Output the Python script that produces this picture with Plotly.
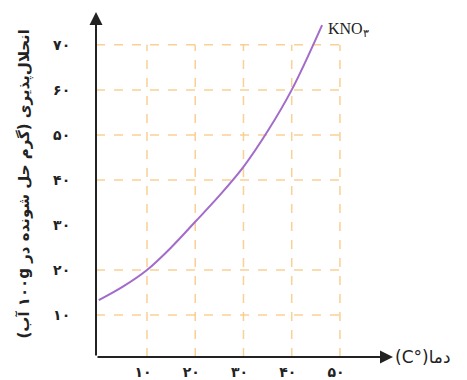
import plotly.graph_objects as go

# Data
temp = [0, 5, 10, 15, 20, 25, 30, 35, 40, 46.3]
solubility = [13.3, 16.3, 20, 25, 30.7, 36.5, 42.9, 50.8, 60, 74.4]

x_ticks = [10, 20, 30, 40, 50]
x_tick_labels = ["۱۰", "۲۰", "۳۰", "۴۰", "۵۰"]
y_ticks = [10, 20, 30, 40, 50, 60, 70]
y_tick_labels = ["۱۰", "۲۰", "۳۰", "۴۰", "۵۰", "۶۰", "۷۰"]
grid_rows = [10, 20, 40, 50, 60, 70]   # the 30 row has no dashed line in the reference

series_name = "KNO<sub>۳</sub>"
y_title = "\u202Bانحلال‌پذیری (گرم حل شونده در ۱۰۰g آب)\u202C"
x_title = "(C°)دما"

X_MIN, X_MAX = -0.57, 61
Y_MIN, Y_MAX = 0.67, 77.3
GRID_X, GRID_Y = 50, 70

fig = go.Figure()

grid_color = "rgba(248,200,130,0.85)"
shapes = []
for xv in x_ticks:
    shapes.append(dict(type="line", xref="x", yref="y", x0=xv, x1=xv, y0=Y_MIN, y1=GRID_Y,
                       line=dict(color=grid_color, width=1.5, dash="dash"), layer="below"))
for yv in grid_rows:
    shapes.append(dict(type="line", xref="x", yref="y", x0=X_MIN, x1=GRID_X + 0.5, y0=yv, y1=yv,
                       line=dict(color=grid_color, width=1.5, dash="dash"), layer="below"))

fig.add_trace(go.Scatter(x=temp, y=solubility, mode="lines",
                         line=dict(color="#A36BCB", width=2, shape="spline"),
                         hoverinfo="skip", showlegend=False))

annotations = [
    dict(x=X_MAX, y=Y_MIN, ax=X_MIN, ay=Y_MIN, xref="x", yref="y", axref="x", ayref="y",
         showarrow=True, arrowhead=2, arrowsize=1.3, arrowwidth=2, arrowcolor="#222", text=""),
    dict(x=X_MIN, y=Y_MAX, ax=X_MIN, ay=Y_MIN, xref="x", yref="y", axref="x", ayref="y",
         showarrow=True, arrowhead=2, arrowsize=1.3, arrowwidth=2, arrowcolor="#222", text=""),
    dict(x=temp[-1], y=solubility[-1], xref="x", yref="y", text=series_name,
         showarrow=False, xanchor="left", yanchor="middle", xshift=4, yshift=-4,
         font=dict(family="Liberation Serif", size=16, color="#222")),
    dict(x=X_MAX, y=Y_MIN, xref="x", yref="y", text=x_title, showarrow=False,
         xanchor="left", yanchor="middle", xshift=0,
         font=dict(family="DejaVu Sans", size=17, color="#222")),
    dict(x=0, y=0.5, xref="paper", yref="paper", text=y_title, showarrow=False,
         textangle=-90, xanchor="center", yanchor="middle", xshift=-72,
         font=dict(family="DejaVu Sans", size=15, color="#222", weight="bold")),
]

# the page body adds an 8px offset, so the figure is 8px smaller and margins shifted
fig.update_layout(
    width=459, height=372,
    margin=dict(l=88, r=74, t=4, b=23),
    paper_bgcolor="white", plot_bgcolor="white",
    shapes=shapes, annotations=annotations,
    xaxis=dict(range=[X_MIN, X_MAX], showgrid=False, zeroline=False, showline=False,
               automargin=False,
               tickvals=x_ticks, ticktext=x_tick_labels, ticks="outside", ticklen=2,
               tickcolor="rgba(0,0,0,0)", ticklabelshift=-4,
               tickfont=dict(family="DejaVu Sans", size=14, color="#222", weight="bold")),
    yaxis=dict(range=[Y_MIN, Y_MAX], showgrid=False, zeroline=False, showline=False,
               automargin=False,
               tickvals=y_ticks, ticktext=y_tick_labels, ticks="outside", ticklen=22,
               tickcolor="rgba(0,0,0,0)",
               tickfont=dict(family="DejaVu Sans", size=14, color="#222", weight="bold")),
)

fig.write_html("out.html")
